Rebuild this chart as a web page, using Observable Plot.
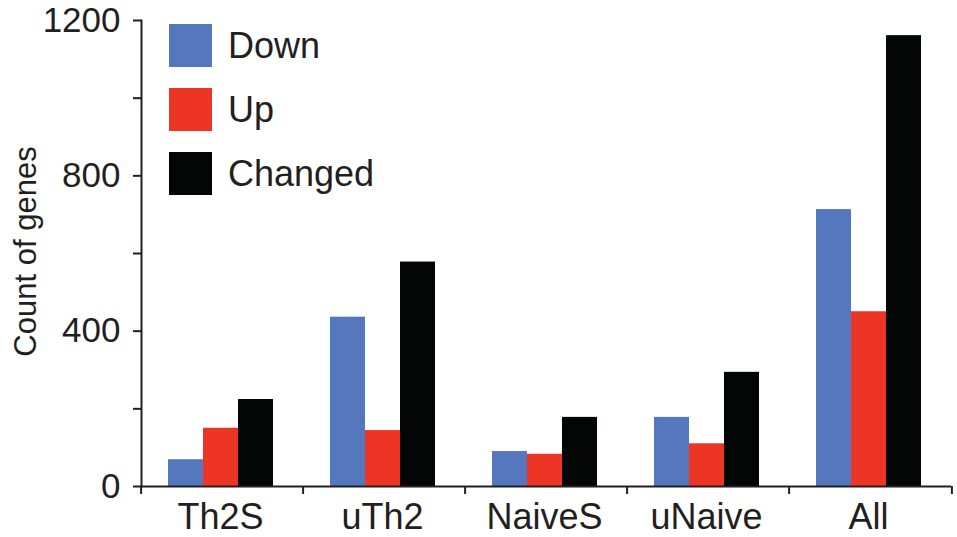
<!DOCTYPE html>
<html>
<head>
<meta charset="utf-8">
<script src="https://cdn.jsdelivr.net/npm/d3@7"></script>
<script src="https://cdn.jsdelivr.net/npm/@observablehq/plot@0.6"></script>
<style>
  html, body { margin: 0; padding: 0; background: #fff; }
  #wrap { position: relative; width: 957px; height: 537px; font-family: "Liberation Sans", Arial, Helvetica, sans-serif; color: #231f20; }
  #legend { position: absolute; left: 169px; top: 24px; }
  .row { display: flex; align-items: center; height: 43px; margin-bottom: 21px; }
  .sw { width: 43px; height: 43px; }
  .lab { margin-left: 16px; font-size: 36px; line-height: 43px; }
</style>
</head>
<body>
<div id="wrap"><div id="legend"></div></div>
<script>
const categories = ["Th2S", "uTh2", "NaiveS", "uNaive", "All"];
const series = ["Down", "Up", "Changed"];
const colors = ["#5577bd", "#ec3524", "#040605"];
const downValues = [69, 436, 90, 178, 713];
const upValues = [150, 144, 83, 110, 450];
const changedValues = [224, 578, 178, 294, 1161];
const majorTicks = [0, 400, 800, 1200];
const minorTicks = [200, 600, 1000];
const yTitle = "Count of genes";

const valuesBySeries = [downValues, upValues, changedValues];
const table = [];
categories.forEach((c, i) => {
  series.forEach((s, j) => table.push({category: c, series: s, value: valuesBySeries[j][i]}));
});

const ink = "#231f20";
const W = 957, mL = 139, mR = 4;
const halfBand = (W - mL - mR) / categories.length / 2;

const chart = Plot.plot({
  width: W,
  height: 537,
  marginLeft: mL,
  marginRight: mR,
  marginTop: 20,
  marginBottom: 51,
  style: {fontFamily: "'Liberation Sans', Arial, Helvetica, sans-serif", color: ink, background: "white"},
  fx: {domain: categories, padding: 0, label: null, axis: null},
  x: {domain: series, paddingInner: 0, paddingOuter: 0.76, align: 0.47, axis: null},
  y: {domain: [0, 1200], axis: null},
  color: {domain: series, range: colors},
  marks: [
    Plot.barY(table, {fx: "category", x: "series", y: "value", fill: "series", inset: 0}),
    Plot.ruleY([0], {stroke: ink, strokeWidth: 2}),
    Plot.frame({anchor: "left", facetAnchor: "left", stroke: ink, strokeWidth: 2}),
    Plot.axisY({ticks: majorTicks, tickFormat: d3.format("d"), tickSize: 8, tickPadding: 13, fontSize: 35, stroke: ink, strokeWidth: 2, label: null}),
    Plot.axisY({ticks: minorTicks, tickSize: 8, tickFormat: () => "", stroke: ink, strokeWidth: 2, label: null}),
    Plot.axisFx({anchor: "bottom", tickSize: 0, tickPadding: 17, fontSize: 36, dx: -2, label: null}),
    Plot.axisFx({anchor: "bottom", tickSize: 8, tickFormat: () => "", dx: -halfBand, stroke: ink, strokeWidth: 2, label: null}),
    Plot.axisFx({anchor: "bottom", ticks: [categories[categories.length - 1]], tickSize: 8, tickFormat: () => "", dx: halfBand, stroke: ink, strokeWidth: 2, label: null}),
    Plot.text([yTitle], {frameAnchor: "left", textAnchor: "middle", rotate: -90, dx: -115, dy: -2, fontSize: 31, fill: ink, facetAnchor: "left"})
  ]
});
document.getElementById("wrap").prepend(chart);

const legend = document.getElementById("legend");
series.forEach((s, i) => {
  const row = document.createElement("div");
  row.className = "row";
  const sw = document.createElement("div");
  sw.className = "sw";
  sw.style.background = colors[i];
  const lab = document.createElement("span");
  lab.className = "lab";
  lab.textContent = s;
  row.append(sw, lab);
  legend.append(row);
});
</script>
</body>
</html>
